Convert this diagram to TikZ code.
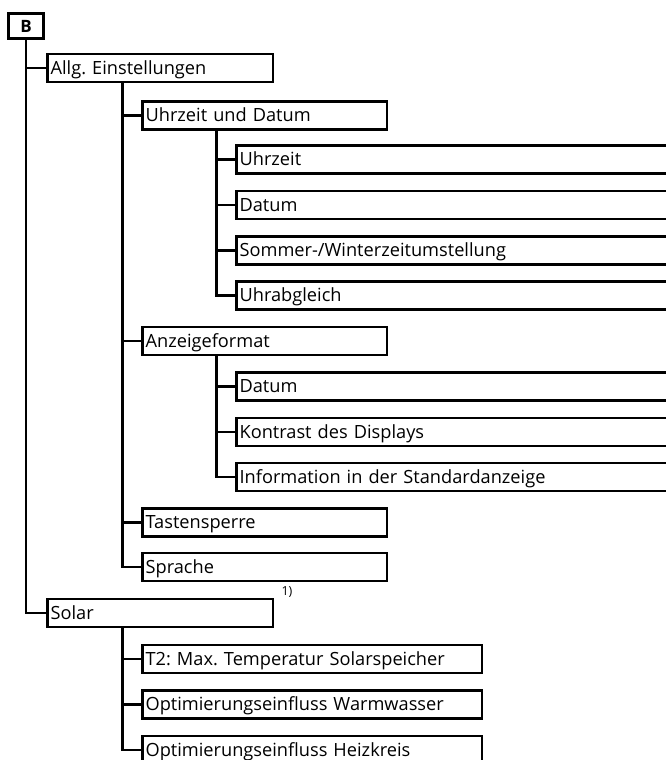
\documentclass[tikz,border=0pt]{standalone}
\usepackage{fontspec}
\setmainfont{Open Sans}
\frenchspacing
\begin{document}
\begin{tikzpicture}[x=1pt,y=-1pt,
  lw/.style={line width=2.6pt},
  box/.style={lw, draw, minimum height=28pt, inner xsep=3pt, inner ysep=0pt,
    anchor=west, align=left, font=\fontsize{18.2}{20}\selectfont,
    text height=12.8pt, text depth=0pt},
  lvla/.style={box, text width=219.4pt},
  lvlb/.style={box, text width=238.4pt},
  lvlc/.style={box, text width=460pt},
  lvlt/.style={box, text width=333.4pt},
  conn/.style={lw}]
\useasboundingbox (0,0) rectangle (666,760);
\clip (0,0) rectangle (666,760);

\node[lw, draw, minimum width=35.4pt, minimum height=25.4pt, inner sep=0pt,
  font=\fontsize{17}{20}\selectfont\bfseries] (b) at (26,26) {B};

\node[lvla] (allg) at (46.3,68) {Allg. Einstellungen};
\node[lvlb] (uud) at (141.3,115.5) {Uhrzeit und Datum};
\node[lvlc] (uhr) at (235.3,159.5) {Uhrzeit};
\node[lvlc] (dat) at (235.3,205) {Datum};
\node[lvlc] (som) at (235.3,250.5) {Sommer-/Winterzeitumstellung};
\node[lvlc] (abg) at (235.3,295.5) {Uhrabgleich};
\node[lvlb] (anz) at (141.3,341) {Anzeigeformat};
\node[lvlc] (dat2) at (235.3,386.5) {Datum};
\node[lvlc] (kon) at (235.3,432) {Kontrast des Displays};
\node[lvlc] (inf) at (235.3,477) {Information in der Standardanzeige};
\node[lvlb] (tas) at (141.3,522.5) {Tastensperre};
\node[lvlb] (spr) at (141.3,567) {Sprache};
\node[font=\fontsize{12.5}{13}\selectfont, inner sep=0pt] (fn) at (287,592) {1)};
\node[lvla] (sol) at (46.3,613) {Solar};
\node[lvlt] (t2) at (141.3,659) {T2: Max. Temperatur Solarspeicher};
\node[lvlt] (ww) at (141.3,704.5) {Optimierungseinfluss Warmwasser};
\node[lvlt] (hk) at (141.3,750) {Optimierungseinfluss Heizkreis};

% trunk coordinates
\coordinate (ta) at (b.south);
\coordinate (tb) at ([xshift=76pt]allg.south west);
\coordinate (tc) at ([xshift=75pt]uud.south west);
\coordinate (td) at ([xshift=75pt]anz.south west);
\coordinate (te) at ([xshift=76pt]sol.south west);

\draw[conn] (ta) |- (sol.west);
\draw[conn] (ta |- allg.west) -- (allg.west);
\draw[conn] (tb) |- (spr.west);
\foreach \n in {uud,anz,tas} \draw[conn] (tb |- \n.west) -- (\n.west);
\draw[conn] (tc) |- (abg.west);
\foreach \n in {uhr,dat,som} \draw[conn] (tc |- \n.west) -- (\n.west);
\draw[conn] (td) |- (inf.west);
\foreach \n in {dat2,kon} \draw[conn] (td |- \n.west) -- (\n.west);
\draw[conn] (te) |- (hk.west);
\foreach \n in {t2,ww} \draw[conn] (te |- \n.west) -- (\n.west);
\end{tikzpicture}
\end{document}
